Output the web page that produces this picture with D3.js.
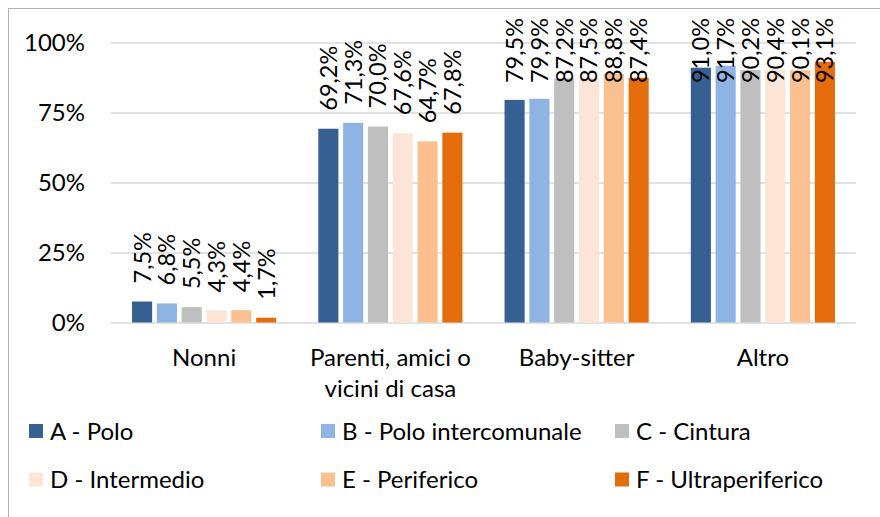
<!DOCTYPE html>
<html>
<head>
<meta charset="utf-8">
<script src="https://cdn.jsdelivr.net/npm/d3@7/dist/d3.min.js"></script>
<style>
  html, body { margin: 0; padding: 0; background: #fff; }
  svg { display: block; }
  text { font-family: Lato, "Liberation Sans", sans-serif; fill: #000; }
</style>
</head>
<body>
<svg id="chart" width="880" height="517"></svg>
<script>
const categories = [["Nonni"], ["Parenti, amici o", "vicini di casa"], ["Baby-sitter"], ["Altro"]];
const categoryKeys = ["Nonni", "Parenti, amici o vicini di casa", "Baby-sitter", "Altro"];
const seriesNames = ["A - Polo", "B - Polo intercomunale", "C - Cintura", "D - Intermedio", "E - Periferico", "F - Ultraperiferico"];
const seriesColors = ["#376092", "#8eb4e3", "#bfbfbf", "#fce4d6", "#fac090", "#e46c0a"];
const valuesA = [7.5, 69.2, 79.5, 91.0];
const valuesB = [6.8, 71.3, 79.9, 91.7];
const valuesC = [5.5, 70.0, 87.2, 90.2];
const valuesD = [4.3, 67.6, 87.5, 90.4];
const valuesE = [4.4, 64.7, 88.8, 90.1];
const valuesF = [1.7, 67.8, 87.4, 93.1];
const seriesValues = [valuesA, valuesB, valuesC, valuesD, valuesE, valuesF];
const yTicks = [0, 25, 50, 75, 100];

const svg = d3.select("#chart");
const fs = 24;
const fsLbl = 23.5;

// chart border
svg.append("rect").attr("x", 8.5).attr("y", 8.5).attr("width", 900).attr("height", 600)
  .attr("fill", "none").attr("stroke", "#b3b3b3").attr("stroke-width", 1);

const plot = { left: 111, right: 856, top: 42.5, bottom: 322.5 };
const y = d3.scaleLinear().domain([0, 100]).range([plot.bottom, plot.top]);
const x0 = d3.scaleBand().domain(categoryKeys).range([plot.left, plot.right]).padding(0);
const pad = x0.bandwidth() * 0.113;
const x1 = d3.scaleBand().domain(seriesNames).range([pad, x0.bandwidth() - pad]).paddingInner(0.19).paddingOuter(0);

// gridlines
const yAxis = d3.axisLeft(y).tickValues(yTicks).tickSize(-(plot.right - plot.left)).tickFormat(d => d + "%");
const gy = svg.append("g").attr("transform", `translate(${plot.left},0)`).call(yAxis);
gy.select(".domain").remove();
gy.selectAll(".tick line").attr("stroke", "#d9d9d9").attr("stroke-width", 1.5);
gy.selectAll(".tick text").attr("x", -26).attr("dy", "0.35em")
  .style("font-size", fs + "px").style("font-family", "Lato, 'Liberation Sans', sans-serif").attr("fill", "#000");

// bars
const groups = svg.append("g").selectAll("g").data(categoryKeys).join("g")
  .attr("transform", d => `translate(${x0(d)},0)`);

const labelData = [];
categoryKeys.forEach((c, ci) => {
  seriesNames.forEach((s, si) => {
    labelData.push({ c, s, si, v: seriesValues[si][ci] });
  });
});

groups.selectAll("rect").data(c => labelData.filter(d => d.c === c)).join("rect")
  .attr("x", d => x1(d.s))
  .attr("width", x1.bandwidth())
  .attr("y", d => y(d.v))
  .attr("height", d => y(0) - y(d.v))
  .attr("fill", d => seriesColors[d.si]);

// data labels (rotated)
const fmt = v => v.toFixed(1).replace(".", ",") + "%";
groups.selectAll("text.lbl").data(c => labelData.filter(d => d.c === c)).join("text")
  .attr("class", "lbl")
  .style("font-size", fsLbl + "px")
  .attr("text-anchor", "start")
  .attr("dy", "0.36em")
  .text(d => fmt(d.v))
  .each(function(d) {
    const len = this.getComputedTextLength();
    let start = y(d.v) - 18;
    if (start - len < 18) start = 18 + len;
    const cx = x1(d.s) + x1.bandwidth() / 2;
    d3.select(this).attr("transform", `translate(${cx},${start}) rotate(-90)`);
  });

// category labels
svg.append("g").selectAll("text").data(categories).join("text")
  .attr("x", (d, i) => x0(categoryKeys[i]) + x0.bandwidth() / 2)
  .attr("y", 366)
  .attr("text-anchor", "middle")
  .style("font-size", fs + "px")
  .each(function(d) {
    const t = d3.select(this);
    d.forEach((line, li) => {
      t.append("tspan").attr("x", t.attr("x")).attr("y", 366 + li * 31).text(line);
    });
  });

// legend
const legendX = [29, 321, 615];
const legendY = [431, 479.5];
const lg = svg.append("g").selectAll("g").data(seriesNames).join("g")
  .attr("transform", (d, i) => `translate(${legendX[i % 3]},${legendY[Math.floor(i / 3)]})`);
lg.append("rect").attr("x", 0).attr("y", -7).attr("width", 14).attr("height", 14)
  .attr("fill", (d, i) => seriesColors[i]);
lg.append("text").attr("x", 21).attr("dy", "0.36em").style("font-size", fs + "px").text(d => d);
</script>
</body>
</html>
